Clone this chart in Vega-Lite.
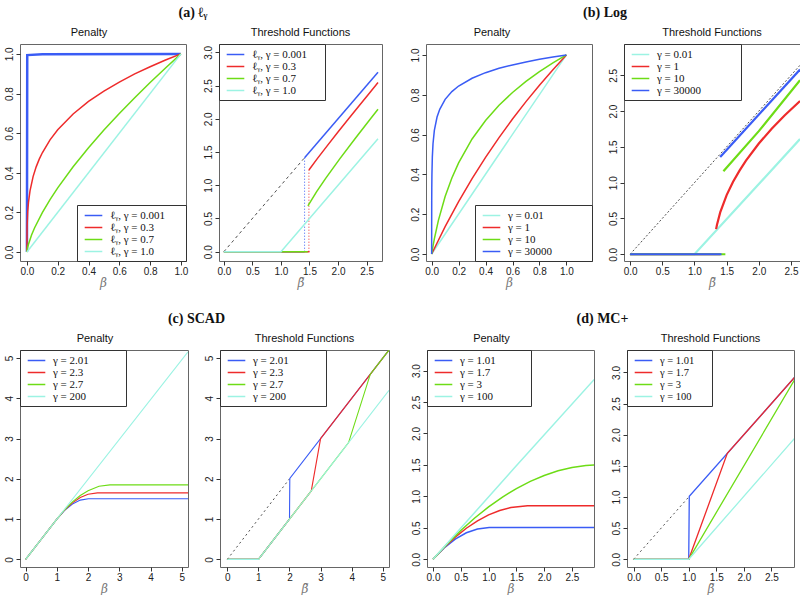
{
"$schema": "https://vega.github.io/schema/vega-lite/v6.json",
"background": "white",
"padding": {"left": 3, "top": 6, "right": 0, "bottom": 0},
"config": {
 "view": {"stroke": "#666666", "strokeWidth": 1},
 "axis": {"domain": false, "grid": false, "tickColor": "#333333", "tickSize": 4, "labelFont": "Liberation Sans", "labelFontSize": 10, "labelColor": "#222222", "labelOverlap": false, "labelFlush": false, "titleFont": "DejaVu Serif", "titleFontStyle": "italic", "titleFontWeight": "normal", "titleFontSize": 12, "titleColor": "#777777"},
 "axisX": {"labelPadding": 1, "titlePadding": 1},
 "axisY": {"labelAngle": -90, "labelPadding": 2, "title": null},
 "legend": {"strokeColor": "#333333", "fillColor": "white", "padding": 4, "symbolType": "M-1.6,0H1.6", "symbolSize": 121, "symbolOffset": 6, "labelOffset": 10, "labelFont": "Liberation Serif", "labelFontSize": 11, "symbolStrokeWidth": 1.5, "rowPadding": 0, "offset": 0, "title": null, "labelColor": "#111111"},
 "title": {"font": "Liberation Sans", "fontSize": 11, "fontWeight": "normal", "offset": 6, "color": "#111111"}
},
"datasets": {
 "p1b": [{"x":0,"y":0,"s":"ℓᵧ, γ = 0.001"},{"x":0.002,"y":0.994,"s":"ℓᵧ, γ = 0.001"},{"x":0.1,"y":0.9977,"s":"ℓᵧ, γ = 0.001"},{"x":1,"y":1,"s":"ℓᵧ, γ = 0.001"}],
 "p1": [
  {"x":0,"y":0,"s":"ℓᵧ, γ = 0.3"},{"x":0.001,"y":0.126,"s":"ℓᵧ, γ = 0.3"},{"x":0.005,"y":0.204,"s":"ℓᵧ, γ = 0.3"},{"x":0.01,"y":0.251,"s":"ℓᵧ, γ = 0.3"},{"x":0.02,"y":0.309,"s":"ℓᵧ, γ = 0.3"},{"x":0.04,"y":0.381,"s":"ℓᵧ, γ = 0.3"},{"x":0.06,"y":0.43,"s":"ℓᵧ, γ = 0.3"},{"x":0.08,"y":0.469,"s":"ℓᵧ, γ = 0.3"},{"x":0.1,"y":0.501,"s":"ℓᵧ, γ = 0.3"},{"x":0.15,"y":0.566,"s":"ℓᵧ, γ = 0.3"},{"x":0.2,"y":0.617,"s":"ℓᵧ, γ = 0.3"},{"x":0.3,"y":0.697,"s":"ℓᵧ, γ = 0.3"},{"x":0.4,"y":0.76,"s":"ℓᵧ, γ = 0.3"},{"x":0.5,"y":0.812,"s":"ℓᵧ, γ = 0.3"},{"x":0.6,"y":0.858,"s":"ℓᵧ, γ = 0.3"},{"x":0.7,"y":0.899,"s":"ℓᵧ, γ = 0.3"},{"x":0.8,"y":0.935,"s":"ℓᵧ, γ = 0.3"},{"x":0.9,"y":0.969,"s":"ℓᵧ, γ = 0.3"},{"x":1,"y":1,"s":"ℓᵧ, γ = 0.3"},
  {"x":0,"y":0,"s":"ℓᵧ, γ = 0.7"},{"x":0.005,"y":0.0245,"s":"ℓᵧ, γ = 0.7"},{"x":0.01,"y":0.0398,"s":"ℓᵧ, γ = 0.7"},{"x":0.03,"y":0.0859,"s":"ℓᵧ, γ = 0.7"},{"x":0.05,"y":0.1228,"s":"ℓᵧ, γ = 0.7"},{"x":0.1,"y":0.1995,"s":"ℓᵧ, γ = 0.7"},{"x":0.15,"y":0.265,"s":"ℓᵧ, γ = 0.7"},{"x":0.2,"y":0.324,"s":"ℓᵧ, γ = 0.7"},{"x":0.3,"y":0.4305,"s":"ℓᵧ, γ = 0.7"},{"x":0.4,"y":0.5266,"s":"ℓᵧ, γ = 0.7"},{"x":0.5,"y":0.6156,"s":"ℓᵧ, γ = 0.7"},{"x":0.6,"y":0.6994,"s":"ℓᵧ, γ = 0.7"},{"x":0.7,"y":0.779,"s":"ℓᵧ, γ = 0.7"},{"x":0.8,"y":0.8554,"s":"ℓᵧ, γ = 0.7"},{"x":0.9,"y":0.9289,"s":"ℓᵧ, γ = 0.7"},{"x":1,"y":1,"s":"ℓᵧ, γ = 0.7"},
  {"x":0,"y":0,"s":"ℓᵧ, γ = 1.0"},{"x":1,"y":1,"s":"ℓᵧ, γ = 1.0"}
 ],
 "p2": [
  {"x":0,"y":0,"s":"ℓᵧ, γ = 0.001","g":"b0"},{"x":1.414,"y":0,"s":"ℓᵧ, γ = 0.001","g":"b0"},
  {"x":1.414,"y":1.414,"s":"ℓᵧ, γ = 0.001","g":"b1"},{"x":2.7,"y":2.7,"s":"ℓᵧ, γ = 0.001","g":"b1"},
  {"x":0,"y":0,"s":"ℓᵧ, γ = 0.3","g":"r0"},{"x":1.5,"y":0,"s":"ℓᵧ, γ = 0.3","g":"r0"},
  {"x":1.4895,"y":1.23,"s":"ℓᵧ, γ = 0.3","g":"r1"},{"x":1.637,"y":1.4,"s":"ℓᵧ, γ = 0.3","g":"r1"},{"x":1.816,"y":1.6,"s":"ℓᵧ, γ = 0.3","g":"r1"},{"x":1.999,"y":1.8,"s":"ℓᵧ, γ = 0.3","g":"r1"},{"x":2.185,"y":2.0,"s":"ℓᵧ, γ = 0.3","g":"r1"},{"x":2.373,"y":2.2,"s":"ℓᵧ, γ = 0.3","g":"r1"},{"x":2.5625,"y":2.4,"s":"ℓᵧ, γ = 0.3","g":"r1"},{"x":2.7,"y":2.545,"s":"ℓᵧ, γ = 0.3","g":"r1"},
  {"x":0,"y":0,"s":"ℓᵧ, γ = 0.7","g":"g0"},{"x":1.47,"y":0,"s":"ℓᵧ, γ = 0.7","g":"g0"},
  {"x":1.4725,"y":0.69,"s":"ℓᵧ, γ = 0.7","g":"g1"},{"x":1.6225,"y":0.9,"s":"ℓᵧ, γ = 0.7","g":"g1"},{"x":1.78,"y":1.1,"s":"ℓᵧ, γ = 0.7","g":"g1"},{"x":2.033,"y":1.4,"s":"ℓᵧ, γ = 0.7","g":"g1"},{"x":2.297,"y":1.7,"s":"ℓᵧ, γ = 0.7","g":"g1"},{"x":2.569,"y":2.0,"s":"ℓᵧ, γ = 0.7","g":"g1"},{"x":2.7,"y":2.143,"s":"ℓᵧ, γ = 0.7","g":"g1"},
  {"x":0,"y":0,"s":"ℓᵧ, γ = 1.0","g":"c0"},{"x":1,"y":0,"s":"ℓᵧ, γ = 1.0","g":"c0"},{"x":2.7,"y":1.7,"s":"ℓᵧ, γ = 1.0","g":"c0"}
 ],
 "p2dash": [{"x":0,"y":0},{"x":1.414,"y":1.414}],
 "p2rule": [{"x":1.414,"y":0,"y2":1.414,"s":"ℓᵧ, γ = 0.001"},{"x":1.49,"y":0,"y2":1.23,"s":"ℓᵧ, γ = 0.3"}],
 "p3": [
  {"x":0,"y":0,"s":"γ = 0.01"},{"x":0.5,"y":0.5012,"s":"γ = 0.01"},{"x":1,"y":1,"s":"γ = 0.01"},
  {"x":0,"y":0,"s":"γ = 1"},{"x":0.1,"y":0.1375,"s":"γ = 1"},{"x":0.2,"y":0.263,"s":"γ = 1"},{"x":0.3,"y":0.3785,"s":"γ = 1"},{"x":0.4,"y":0.4854,"s":"γ = 1"},{"x":0.5,"y":0.585,"s":"γ = 1"},{"x":0.6,"y":0.678,"s":"γ = 1"},{"x":0.7,"y":0.7655,"s":"γ = 1"},{"x":0.8,"y":0.848,"s":"γ = 1"},{"x":0.9,"y":0.926,"s":"γ = 1"},{"x":1,"y":1,"s":"γ = 1"},
  {"x":0,"y":0,"s":"γ = 10"},{"x":0.01,"y":0.0397,"s":"γ = 10"},{"x":0.02,"y":0.076,"s":"γ = 10"},{"x":0.05,"y":0.169,"s":"γ = 10"},{"x":0.1,"y":0.289,"s":"γ = 10"},{"x":0.15,"y":0.382,"s":"γ = 10"},{"x":0.2,"y":0.458,"s":"γ = 10"},{"x":0.3,"y":0.578,"s":"γ = 10"},{"x":0.4,"y":0.671,"s":"γ = 10"},{"x":0.5,"y":0.747,"s":"γ = 10"},{"x":0.6,"y":0.8115,"s":"γ = 10"},{"x":0.7,"y":0.867,"s":"γ = 10"},{"x":0.8,"y":0.916,"s":"γ = 10"},{"x":0.9,"y":0.96,"s":"γ = 10"},{"x":1,"y":1,"s":"γ = 10"},
  {"x":0,"y":0,"s":"γ = 30000"},{"x":0.0001,"y":0.1345,"s":"γ = 30000"},{"x":0.0005,"y":0.269,"s":"γ = 30000"},{"x":0.001,"y":0.333,"s":"γ = 30000"},{"x":0.002,"y":0.399,"s":"γ = 30000"},{"x":0.005,"y":0.487,"s":"γ = 30000"},{"x":0.01,"y":0.554,"s":"γ = 30000"},{"x":0.02,"y":0.621,"s":"γ = 30000"},{"x":0.04,"y":0.688,"s":"γ = 30000"},{"x":0.06,"y":0.727,"s":"γ = 30000"},{"x":0.1,"y":0.777,"s":"γ = 30000"},{"x":0.15,"y":0.816,"s":"γ = 30000"},{"x":0.2,"y":0.844,"s":"γ = 30000"},{"x":0.3,"y":0.883,"s":"γ = 30000"},{"x":0.4,"y":0.911,"s":"γ = 30000"},{"x":0.5,"y":0.933,"s":"γ = 30000"},{"x":0.6,"y":0.95,"s":"γ = 30000"},{"x":0.7,"y":0.965,"s":"γ = 30000"},{"x":0.8,"y":0.978,"s":"γ = 30000"},{"x":0.9,"y":0.99,"s":"γ = 30000"},{"x":1,"y":1,"s":"γ = 30000"}
 ],
 "p4": [
  {"x":0,"y":0,"s":"γ = 0.01","g":"c0"},{"x":1.0,"y":0,"s":"γ = 0.01","g":"c0"},{"x":2.64,"y":1.61,"s":"γ = 0.01","g":"c0"},
  {"x":0,"y":0,"s":"γ = 1","g":"r0"},{"x":1.4,"y":0,"s":"γ = 1","g":"r0"},
  {"x":1.336,"y":0.351,"s":"γ = 1","g":"r1"},{"x":1.35,"y":0.413,"s":"γ = 1","g":"r1"},{"x":1.4,"y":0.585,"s":"γ = 1","g":"r1"},{"x":1.5,"y":0.827,"s":"γ = 1","g":"r1"},{"x":1.6,"y":1.013,"s":"γ = 1","g":"r1"},{"x":1.7,"y":1.169,"s":"γ = 1","g":"r1"},{"x":1.8,"y":1.307,"s":"γ = 1","g":"r1"},{"x":2.0,"y":1.547,"s":"γ = 1","g":"r1"},{"x":2.2,"y":1.754,"s":"γ = 1","g":"r1"},{"x":2.4,"y":1.939,"s":"γ = 1","g":"r1"},{"x":2.64,"y":2.14,"s":"γ = 1","g":"r1"},
  {"x":0,"y":0,"s":"γ = 10","g":"g0"},{"x":1.48,"y":0,"s":"γ = 10","g":"g0"},
  {"x":1.45,"y":1.16,"s":"γ = 10","g":"g1"},{"x":2.0,"y":1.72,"s":"γ = 10","g":"g1"},{"x":2.64,"y":2.43,"s":"γ = 10","g":"g1"},
  {"x":0,"y":0,"s":"γ = 30000","g":"b0"},{"x":1.42,"y":0,"s":"γ = 30000","g":"b0"},
  {"x":1.4,"y":1.36,"s":"γ = 30000","g":"b1"},{"x":2.64,"y":2.58,"s":"γ = 30000","g":"b1"}
 ],
 "p4dot": [{"x":0,"y":0},{"x":2.64,"y":2.64}],
 "p5": [
  {"x":0,"y":0,"s":"γ = 2.01"},{"x":1,"y":1,"s":"γ = 2.01"},{"x":1.25,"y":1.219,"s":"γ = 2.01"},{"x":1.5,"y":1.376,"s":"γ = 2.01"},{"x":1.75,"y":1.4715,"s":"γ = 2.01"},{"x":2.01,"y":1.505,"s":"γ = 2.01"},{"x":5.2,"y":1.505,"s":"γ = 2.01"},
  {"x":0,"y":0,"s":"γ = 2.3"},{"x":1,"y":1,"s":"γ = 2.3"},{"x":1.25,"y":1.226,"s":"γ = 2.3"},{"x":1.5,"y":1.404,"s":"γ = 2.3"},{"x":1.75,"y":1.534,"s":"γ = 2.3"},{"x":2.0,"y":1.615,"s":"γ = 2.3"},{"x":2.3,"y":1.65,"s":"γ = 2.3"},{"x":5.2,"y":1.65,"s":"γ = 2.3"},
  {"x":0,"y":0,"s":"γ = 2.7"},{"x":1,"y":1,"s":"γ = 2.7"},{"x":1.25,"y":1.2316,"s":"γ = 2.7"},{"x":1.5,"y":1.4265,"s":"γ = 2.7"},{"x":1.75,"y":1.5846,"s":"γ = 2.7"},{"x":2.0,"y":1.706,"s":"γ = 2.7"},{"x":2.35,"y":1.814,"s":"γ = 2.7"},{"x":2.7,"y":1.85,"s":"γ = 2.7"},{"x":5.2,"y":1.85,"s":"γ = 2.7"},
  {"x":0,"y":0,"s":"γ = 200"},{"x":1,"y":1,"s":"γ = 200"},{"x":5.2,"y":5.156,"s":"γ = 200"}
 ],
 "p6": [
  {"x":0,"y":0,"s":"γ = 2.01"},{"x":1,"y":0,"s":"γ = 2.01"},{"x":2,"y":1,"s":"γ = 2.01"},{"x":2.01,"y":2.01,"s":"γ = 2.01"},{"x":5.2,"y":5.2,"s":"γ = 2.01"},
  {"x":0,"y":0,"s":"γ = 2.3"},{"x":1,"y":0,"s":"γ = 2.3"},{"x":2.7,"y":1.7,"s":"γ = 2.3"},{"x":3.0,"y":3.0,"s":"γ = 2.3"},{"x":5.2,"y":5.2,"s":"γ = 2.3"},
  {"x":0,"y":0,"s":"γ = 2.7"},{"x":1,"y":0,"s":"γ = 2.7"},{"x":3.9,"y":2.9,"s":"γ = 2.7"},{"x":4.6,"y":4.6,"s":"γ = 2.7"},{"x":5.2,"y":5.2,"s":"γ = 2.7"},
  {"x":0,"y":0,"s":"γ = 200"},{"x":1,"y":0,"s":"γ = 200"},{"x":5.2,"y":4.2,"s":"γ = 200"}
 ],
 "p6dot": [{"x":0,"y":0},{"x":2,"y":2}],
 "p7": [
  {"x":0,"y":0,"s":"γ = 1.01"},{"x":0.2,"y":0.1802,"s":"γ = 1.01"},{"x":0.4,"y":0.3208,"s":"γ = 1.01"},{"x":0.6,"y":0.4218,"s":"γ = 1.01"},{"x":0.8,"y":0.4832,"s":"γ = 1.01"},{"x":1.01,"y":0.505,"s":"γ = 1.01"},{"x":2.9,"y":0.505,"s":"γ = 1.01"},
  {"x":0,"y":0,"s":"γ = 1.7"},{"x":0.2,"y":0.1882,"s":"γ = 1.7"},{"x":0.4,"y":0.3529,"s":"γ = 1.7"},{"x":0.6,"y":0.4941,"s":"γ = 1.7"},{"x":0.8,"y":0.6118,"s":"γ = 1.7"},{"x":1.0,"y":0.7059,"s":"γ = 1.7"},{"x":1.2,"y":0.7765,"s":"γ = 1.7"},{"x":1.4,"y":0.8235,"s":"γ = 1.7"},{"x":1.7,"y":0.85,"s":"γ = 1.7"},{"x":2.9,"y":0.85,"s":"γ = 1.7"},
  {"x":0,"y":0,"s":"γ = 3"},{"x":0.25,"y":0.2396,"s":"γ = 3"},{"x":0.5,"y":0.4583,"s":"γ = 3"},{"x":0.75,"y":0.6563,"s":"γ = 3"},{"x":1.0,"y":0.8333,"s":"γ = 3"},{"x":1.25,"y":0.9896,"s":"γ = 3"},{"x":1.5,"y":1.125,"s":"γ = 3"},{"x":1.75,"y":1.2396,"s":"γ = 3"},{"x":2.0,"y":1.3333,"s":"γ = 3"},{"x":2.25,"y":1.4063,"s":"γ = 3"},{"x":2.5,"y":1.4583,"s":"γ = 3"},{"x":2.75,"y":1.4896,"s":"γ = 3"},{"x":2.9,"y":1.4983,"s":"γ = 3"},
  {"x":0,"y":0,"s":"γ = 100"},{"x":1.45,"y":1.4395,"s":"γ = 100"},{"x":2.9,"y":2.858,"s":"γ = 100"}
 ],
 "p8": [
  {"x":0,"y":0,"s":"γ = 1.01"},{"x":1,"y":0,"s":"γ = 1.01"},{"x":1.01,"y":1.01,"s":"γ = 1.01"},{"x":2.92,"y":2.92,"s":"γ = 1.01"},
  {"x":0,"y":0,"s":"γ = 1.7"},{"x":1,"y":0,"s":"γ = 1.7"},{"x":1.7,"y":1.7,"s":"γ = 1.7"},{"x":2.92,"y":2.92,"s":"γ = 1.7"},
  {"x":0,"y":0,"s":"γ = 3"},{"x":1,"y":0,"s":"γ = 3"},{"x":2.92,"y":2.88,"s":"γ = 3"},
  {"x":0,"y":0,"s":"γ = 100"},{"x":1,"y":0,"s":"γ = 100"},{"x":2.92,"y":1.94,"s":"γ = 100"}
 ],
 "p8dot": [{"x":0,"y":0},{"x":1,"y":1}]
},
"spacing": 23,
"resolve": {"scale": {"color": "independent"}, "legend": {"color": "independent"}},
"vconcat": [
 {"hconcat": [
  {"title": {"text": "(a) ℓᵧ", "font": "Liberation Serif", "fontSize": 14, "fontWeight": "bold", "anchor": "middle", "offset": 6},
   "bounds": "flush", "spacing": 33,
   "resolve": {"scale": {"color": "independent"}, "legend": {"color": "independent"}},
   "hconcat": [
    {"width": 166, "height": 217, "title": {"text": "Penalty", "dx": -14},
     "encoding": {
      "x": {"field": "x", "type": "quantitative", "scale": {"domain": [-0.045, 1.033], "nice": false, "zero": false}, "axis": {"values": [0, 0.2, 0.4, 0.6, 0.8, 1], "format": ".1f", "title": "β", "labelOverlap": false}},
      "y": {"field": "y", "type": "quantitative", "scale": {"domain": [-0.045, 1.05], "nice": false, "zero": false}, "axis": {"values": [0, 0.2, 0.4, 0.6, 0.8, 1], "format": ".1f", "labelOverlap": false}}
     },
     "layer": [
      {"data": {"name": "p1b"}, "mark": {"type": "line", "strokeWidth": 2.5, "clip": true},
       "encoding": {"color": {"field": "s", "type": "nominal", "scale": {"domain": ["ℓᵧ, γ = 0.001", "ℓᵧ, γ = 0.3", "ℓᵧ, γ = 0.7", "ℓᵧ, γ = 1.0"], "range": ["#3a5cf5", "#ee2b2b", "#6ddc16", "#9cf3e3"]}, "legend": {"orient": "bottom-right", "labelExpr": "datum.label + '      \u200b'"}}}},
      {"data": {"name": "p1"}, "mark": {"type": "line", "strokeWidth": 1.5, "clip": true},
       "encoding": {"color": {"field": "s", "type": "nominal"}}}
     ]},
    {"width": 163, "height": 217, "title": "Threshold Functions",
     "encoding": {
      "x": {"field": "x", "type": "quantitative", "scale": {"domain": [-0.085, 2.77], "nice": false, "zero": false}, "axis": {"values": [0, 0.5, 1, 1.5, 2, 2.5], "format": ".1f", "title": "β̃", "labelOverlap": false}},
      "y": {"field": "y", "type": "quantitative", "scale": {"domain": [-0.14, 3.125], "nice": false, "zero": false}, "axis": {"values": [0, 0.5, 1, 1.5, 2, 2.5, 3], "format": ".1f", "labelOverlap": false}}
     },
     "layer": [
      {"data": {"name": "p2dash"}, "mark": {"type": "line", "color": "#222222", "strokeWidth": 0.8, "strokeDash": [3, 3], "clip": true}, "encoding": {}},
      {"data": {"name": "p2rule"}, "mark": {"type": "rule", "strokeWidth": 1, "strokeDash": [1, 2]},
       "encoding": {"y2": {"field": "y2"}, "color": {"field": "s", "type": "nominal"}}},
      {"data": {"name": "p2"}, "mark": {"type": "line", "strokeWidth": 1.5, "clip": true},
       "encoding": {"detail": {"field": "g"},
        "color": {"field": "s", "type": "nominal", "scale": {"domain": ["ℓᵧ, γ = 0.001", "ℓᵧ, γ = 0.3", "ℓᵧ, γ = 0.7", "ℓᵧ, γ = 1.0"], "range": ["#3a5cf5", "#ee2b2b", "#6ddc16", "#9cf3e3"]}, "legend": {"orient": "top-left", "labelExpr": "datum.label + '     \u200b'"}}}}
     ]}
   ]},
  {"title": {"text": "(b) Log", "font": "Liberation Serif", "fontSize": 14, "fontWeight": "bold", "anchor": "middle", "offset": 6},
   "bounds": "flush", "spacing": 32,
   "resolve": {"scale": {"color": "independent"}, "legend": {"color": "independent"}},
   "hconcat": [
    {"width": 166, "height": 217, "title": {"text": "Penalty", "dx": -17},
     "encoding": {
      "x": {"field": "x", "type": "quantitative", "scale": {"domain": [-0.042, 1.19], "nice": false, "zero": false}, "axis": {"values": [0, 0.2, 0.4, 0.6, 0.8, 1], "format": ".1f", "title": "β", "labelOverlap": false}},
      "y": {"field": "y", "type": "quantitative", "scale": {"domain": [-0.035, 1.055], "nice": false, "zero": false}, "axis": {"values": [0, 0.2, 0.4, 0.6, 0.8, 1], "format": ".1f", "labelOverlap": false}}
     },
     "layer": [
      {"data": {"name": "p3"}, "mark": {"type": "line", "strokeWidth": 1.5, "clip": true},
       "encoding": {"color": {"field": "s", "type": "nominal", "scale": {"domain": ["γ = 0.01", "γ = 1", "γ = 10", "γ = 30000"], "range": ["#9cf3e3", "#ee2b2b", "#6ddc16", "#3a5cf5"]}, "legend": {"orient": "bottom-right", "labelExpr": "datum.label + '             \u200b'"}}}}
     ]},
    {"width": 176, "height": 217, "title": "Threshold Functions",
     "encoding": {
      "x": {"field": "x", "type": "quantitative", "scale": {"domain": [-0.095, 2.64], "nice": false, "zero": false}, "axis": {"values": [0, 0.5, 1, 1.5, 2, 2.5], "format": ".1f", "title": "β̃", "labelOverlap": false}},
      "y": {"field": "y", "type": "quantitative", "scale": {"domain": [-0.094, 2.937], "nice": false, "zero": false}, "axis": {"values": [0, 0.5, 1, 1.5, 2, 2.5], "format": ".1f", "labelOverlap": false}}
     },
     "layer": [
      {"data": {"name": "p4dot"}, "mark": {"type": "line", "color": "#222222", "strokeWidth": 0.8, "strokeDash": [2, 2], "clip": true}, "encoding": {}},
      {"data": {"name": "p4"}, "mark": {"type": "line", "strokeWidth": 2.2, "clip": true},
       "encoding": {"detail": {"field": "g"},
        "color": {"field": "s", "type": "nominal", "scale": {"domain": ["γ = 0.01", "γ = 1", "γ = 10", "γ = 30000"], "range": ["#9cf3e3", "#ee2b2b", "#6ddc16", "#3a5cf5"]}, "legend": {"orient": "top-left", "labelExpr": "datum.label + '             \u200b'"}}}}
     ]}
   ]}
 ], "spacing": 26,
 "resolve": {"scale": {"color": "independent"}, "legend": {"color": "independent"}}},
 {"hconcat": [
  {"title": {"text": "(c) SCAD", "font": "Liberation Serif", "fontSize": 14, "fontWeight": "bold", "anchor": "middle", "offset": 6},
   "bounds": "flush", "spacing": 32,
   "resolve": {"scale": {"color": "independent"}, "legend": {"color": "independent"}},
   "hconcat": [
    {"width": 168, "height": 217, "title": {"text": "Penalty", "dx": -9},
     "encoding": {
      "x": {"field": "x", "type": "quantitative", "scale": {"domain": [-0.18, 5.2], "nice": false, "zero": false}, "axis": {"values": [0, 1, 2, 3, 4, 5], "format": "d", "title": "β", "labelOverlap": false}},
      "y": {"field": "y", "type": "quantitative", "scale": {"domain": [-0.19, 5.2], "nice": false, "zero": false}, "axis": {"values": [0, 1, 2, 3, 4, 5], "format": "d", "labelOverlap": false}}
     },
     "layer": [
      {"data": {"name": "p5"}, "mark": {"type": "line", "strokeWidth": 1.1, "clip": true},
       "encoding": {"color": {"field": "s", "type": "nominal", "scale": {"domain": ["γ = 2.01", "γ = 2.3", "γ = 2.7", "γ = 200"], "range": ["#3a5cf5", "#ee2b2b", "#6ddc16", "#9cf3e3"]}, "legend": {"orient": "top-left", "labelExpr": "datum.label + '            \u200b'"}}}}
     ]},
    {"width": 169, "height": 217, "title": "Threshold Functions",
     "encoding": {
      "x": {"field": "x", "type": "quantitative", "scale": {"domain": [-0.235, 5.2], "nice": false, "zero": false}, "axis": {"values": [0, 1, 2, 3, 4, 5], "format": "d", "title": "β̃", "labelOverlap": false}},
      "y": {"field": "y", "type": "quantitative", "scale": {"domain": [-0.19, 5.2], "nice": false, "zero": false}, "axis": {"values": [0, 1, 2, 3, 4, 5], "format": "d", "labelOverlap": false}}
     },
     "layer": [
      {"data": {"name": "p6dot"}, "mark": {"type": "line", "color": "#222222", "strokeWidth": 0.8, "strokeDash": [2, 3], "clip": true}, "encoding": {}},
      {"data": {"name": "p6"}, "mark": {"type": "line", "strokeWidth": 1.1, "clip": true},
       "encoding": {"color": {"field": "s", "type": "nominal", "scale": {"domain": ["γ = 2.01", "γ = 2.3", "γ = 2.7", "γ = 200"], "range": ["#3a5cf5", "#ee2b2b", "#6ddc16", "#9cf3e3"]}, "legend": {"orient": "top-left", "labelExpr": "datum.label + '            \u200b'"}}}}
     ]}
   ]},
  {"title": {"text": "(d) MC+", "font": "Liberation Serif", "fontSize": 14, "fontWeight": "bold", "anchor": "middle", "offset": 6},
   "bounds": "flush", "spacing": 33,
   "resolve": {"scale": {"color": "independent"}, "legend": {"color": "independent"}},
   "hconcat": [
    {"width": 167, "height": 217, "title": {"text": "Penalty", "dx": -19},
     "encoding": {
      "x": {"field": "x", "type": "quantitative", "scale": {"domain": [-0.108, 2.896], "nice": false, "zero": false}, "axis": {"values": [0, 0.5, 1, 1.5, 2, 2.5], "format": ".1f", "title": "β", "labelOverlap": false}},
      "y": {"field": "y", "type": "quantitative", "scale": {"domain": [-0.122, 3.327], "nice": false, "zero": false}, "axis": {"values": [0, 0.5, 1, 1.5, 2, 2.5, 3], "format": ".1f", "labelOverlap": false}}
     },
     "layer": [
      {"data": {"name": "p7"}, "mark": {"type": "line", "strokeWidth": 1.5, "clip": true},
       "encoding": {"color": {"field": "s", "type": "nominal", "scale": {"domain": ["γ = 1.01", "γ = 1.7", "γ = 3", "γ = 100"], "range": ["#3a5cf5", "#ee2b2b", "#6ddc16", "#9cf3e3"]}, "legend": {"orient": "top-left", "labelExpr": "datum.label + '           \u200b'"}}}}
     ]},
    {"width": 167, "height": 217, "title": "Threshold Functions",
     "encoding": {
      "x": {"field": "x", "type": "quantitative", "scale": {"domain": [-0.12, 2.91], "nice": false, "zero": false}, "axis": {"values": [0, 0.5, 1, 1.5, 2, 2.5], "format": ".1f", "title": "β̃", "labelOverlap": false}},
      "y": {"field": "y", "type": "quantitative", "scale": {"domain": [-0.124, 3.36], "nice": false, "zero": false}, "axis": {"values": [0, 0.5, 1, 1.5, 2, 2.5, 3], "format": ".1f", "labelOverlap": false}}
     },
     "layer": [
      {"data": {"name": "p8dot"}, "mark": {"type": "line", "color": "#222222", "strokeWidth": 0.8, "strokeDash": [2, 3], "clip": true}, "encoding": {}},
      {"data": {"name": "p8"}, "mark": {"type": "line", "strokeWidth": 1.3, "clip": true},
       "encoding": {"color": {"field": "s", "type": "nominal", "scale": {"domain": ["γ = 1.01", "γ = 1.7", "γ = 3", "γ = 100"], "range": ["#3a5cf5", "#ee2b2b", "#6ddc16", "#9cf3e3"]}, "legend": {"orient": "top-left", "labelFontSize": 10.5, "labelExpr": "datum.label + '     \u200b'"}}}}
     ]}
   ]}
 ], "spacing": 20,
 "resolve": {"scale": {"color": "independent"}, "legend": {"color": "independent"}}}
]
}
